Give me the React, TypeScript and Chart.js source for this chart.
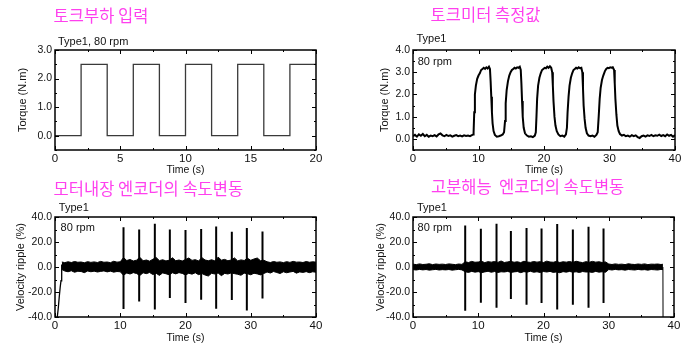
import React, { useEffect, useRef } from "react";
import { Chart, registerables } from "chart.js";

Chart.register(...registerables);

// ---------------- DATA ----------------
// Chart 1: torque load input (step)
const loadTime = [0, 2, 4, 6, 8, 10, 12, 14, 16, 18, 20];
const loadTorque = [0, 2.5, 0, 2.5, 0, 2.5, 0, 2.5, 0, 2.5, 2.5];

// Chart 2: torque meter measurement
const meterTime = [
  0, 0.3, 0.6, 0.9, 1.2, 1.5, 1.8, 2.1, 2.4, 2.7, 3.0, 3.3, 3.6, 3.9, 4.2, 4.5, 4.8, 5.1, 5.4, 5.7, 6.0, 6.3, 6.6, 6.9, 7.2, 7.5, 7.8, 8.1, 8.4, 8.7, 9.0, 9.2,
  9.25, 9.35, 9.45, 9.6, 9.8, 10.0, 10.2, 10.4, 10.6, 10.8, 11.0, 11.2, 11.4, 11.6, 11.75, 11.85, 11.95, 12.05, 12.15, 12.3, 12.5, 12.8, 13.1, 13.4, 13.7, 13.9,
  14.05, 14.15, 14.3, 14.5, 14.7, 14.9, 15.1, 15.3, 15.5, 15.7, 15.9, 16.1, 16.3, 16.45, 16.55, 16.65, 16.75, 16.9, 17.1, 17.4, 17.7, 18.0, 18.3, 18.6, 18.75,
  18.85, 18.95, 19.1, 19.3, 19.5, 19.7, 19.9, 20.1, 20.3, 20.5, 20.7, 20.9, 21.1, 21.25, 21.35, 21.45, 21.6, 21.75, 21.95, 22.2, 22.5, 22.8, 23.1, 23.35,
  23.5, 23.6, 23.75, 23.9, 24.1, 24.3, 24.5, 24.7, 24.9, 25.1, 25.3, 25.5, 25.7, 25.85, 25.95, 26.05, 26.2, 26.35, 26.55, 26.8, 27.1, 27.4, 27.7, 28.0, 28.2,
  28.35, 28.5, 28.65, 28.85, 29.05, 29.3, 29.5, 29.7, 29.9, 30.1, 30.3, 30.5, 30.7, 30.8, 30.9, 31.05, 31.2, 31.4, 31.6, 31.9,
  32.2, 32.5, 32.8, 33.1, 33.4, 33.7, 34.0, 34.3, 34.6, 34.9, 35.2, 35.5, 35.8, 36.1, 36.4, 36.7, 37.0, 37.3, 37.6, 37.9, 38.2, 38.5, 38.8, 39.1, 39.4, 39.7, 40,
];
const meterTorque = [
  0.12, 0.18, 0.1, 0.2, 0.14, 0.22, 0.12, 0.18, 0.1, 0.15, 0.12, 0.17, 0.11, 0.2, 0.24, 0.16, 0.12, 0.18, 0.13, 0.16, 0.1, 0.14, 0.17, 0.12, 0.15, 0.11, 0.16, 0.13, 0.15, 0.12, 0.17, 0.2,
  0.3, 1.2, 2.0, 2.4, 2.7, 2.85, 2.95, 3.1, 3.15, 3.2, 3.15, 3.22, 3.17, 3.25, 3.15, 2.6, 1.9, 1.2, 0.7, 0.35, 0.18, 0.1, 0.12, 0.15, 0.2, 0.3,
  0.8, 1.6, 2.2, 2.6, 2.85, 3.0, 3.1, 3.15, 3.2, 3.17, 3.22, 3.2, 3.25, 3.1, 2.5, 1.7, 1.0, 0.5, 0.25, 0.15, 0.1, 0.12, 0.08, 0.15, 0.3,
  1.0, 1.8, 2.4, 2.75, 2.95, 3.1, 3.15, 3.2, 3.18, 3.25, 3.2, 3.27, 3.2, 3.0, 2.4, 1.7, 1.0, 0.6, 0.35, 0.2, 0.12, 0.15, 0.1, 0.2,
  0.5, 1.2, 1.9, 2.4, 2.75, 2.95, 3.1, 3.15, 3.2, 3.17, 3.22, 3.18, 3.2, 3.0, 2.3, 1.5, 0.9, 0.5, 0.25, 0.15, 0.12, 0.15, 0.1, 0.18, 0.3,
  1.0, 1.8, 2.3, 2.65, 2.85, 3.05, 3.15, 3.2, 3.18, 3.22, 3.2, 3.22, 3.1, 2.5, 1.8, 1.1, 0.6, 0.35, 0.22, 0.15,
  0.18, 0.12, 0.15, 0.1, 0.17, 0.12, 0.16, 0.08, 0.04, 0.12, 0.15, 0.1, 0.16, 0.13, 0.18, 0.12, 0.16, 0.14, 0.19, 0.13, 0.17, 0.12, 0.2, 0.14, 0.18, 0.1, 0.17,
];

// Chart 3: built-in motor encoder velocity ripple
const motorStartTime = [0.35, 0.5, 0.65, 0.8, 0.92, 1.0, 1.05];
const motorStartValue = [-40, -33, -24, -16, -11, -4, 2];
const motorBandTime = [
  1.05, 1.5, 2, 2.5, 3, 3.5, 4, 4.5, 5, 5.5, 6, 6.5, 7, 7.5, 8, 8.5, 9, 9.5, 10,
  10.5, 11, 11.5, 12, 12.5, 13, 13.5, 14, 14.5, 15, 15.5, 16, 16.5, 17, 17.5, 18, 18.5, 19, 19.5, 20,
  20.5, 21, 21.5, 22, 22.5, 23, 23.5, 24, 24.5, 25, 25.5, 26, 26.5, 27, 27.5, 28, 28.5, 29, 29.5, 30,
  30.5, 31, 31.5, 32,
  32.5, 33, 33.5, 34, 34.5, 35, 35.5, 36, 36.5, 37, 37.5, 38, 38.5, 39, 39.5, 40,
];
const motorBandUpper = [
  4.0, 3.5, 4.2, 3.6, 4.4, 3.8, 4.0, 3.4, 4.3, 3.7, 4.1, 3.6, 4.5, 3.8, 4.0, 3.5, 4.6, 3.9, 4.2,
  7.5, 5.2, 6.0, 4.8, 5.5, 7.8, 5.0, 5.6, 4.7, 6.2, 7.6, 5.1, 5.8, 4.9, 5.4, 7.4, 5.0, 5.6, 4.8, 6.0,
  7.2, 5.3, 5.9, 4.8, 7.5, 5.6, 5.0, 5.8, 4.9, 7.9, 5.5, 6.1, 5.0, 5.6, 7.3, 4.9, 5.7, 5.2, 7.0, 5.4,
  6.4, 7.2, 5.0, 5.4,
  4.2, 3.6, 4.4, 3.8, 4.1, 3.5, 4.3, 3.7, 4.5, 3.9, 4.0, 3.6, 4.4, 3.8, 4.2, 3.9,
];
const motorBandLower = [
  -2.0, -3.2, -3.8, -3.0, -4.2, -3.4, -3.6, -4.5, -3.2, -3.8, -3.3, -4.0, -3.5, -3.1, -3.9, -3.3, -4.1, -3.6, -3.8,
  -6.5, -4.8, -5.6, -4.5, -5.2, -6.8, -4.6, -5.3, -4.4, -6.0, -5.0, -6.7, -4.7, -5.4, -6.2, -4.6, -5.5, -4.5, -5.1, -6.4,
  -5.0, -5.7, -4.6, -6.1, -5.2, -6.4, -7.2, -5.0, -5.6, -4.8, -6.9, -5.1, -5.6, -4.7, -5.3, -5.8, -6.6, -4.9, -5.4, -6.2,
  -5.0, -5.5, -6.3, -5.2,
  -4.0, -4.8, -3.6, -4.4, -5.2, -3.8, -4.6, -4.0, -3.5, -4.9, -3.9, -4.3, -3.7, -4.5, -3.8, -4.2,
];
const motorSpikeTime = [10.5, 12.9, 15.3, 17.6, 20.0, 22.4, 24.7, 27.1, 29.4, 31.8];
const motorSpikeTop = [31.8, 30.0, 34.7, 30.0, 29.6, 30.4, 32.5, 28.3, 31.2, 28.5];
const motorSpikeBottom = [-33.6, -27.5, -33.9, -24.8, -28.8, -26.1, -33.3, -26.4, -34.7, -25.1];

// Chart 4: high resolution encoder velocity ripple
const hiresBandTime = [
  0, 0.5, 1, 1.5, 2, 2.5, 3, 3.5, 4, 4.5, 5, 5.5, 6, 6.5, 7, 7.5,
  8, 8.5, 9, 9.5, 10, 10.5, 11, 11.5, 12, 12.5, 13, 13.5, 14, 14.5, 15, 15.5, 16, 16.5, 17, 17.5, 18, 18.5, 19, 19.5,
  20, 20.5, 21, 21.5, 22, 22.5, 23, 23.5, 24, 24.5, 25, 25.5, 26, 26.5, 27, 27.5, 28, 28.5, 29, 29.5,
  30, 30.5, 31, 31.5, 32, 32.5, 33, 33.5, 34, 34.5, 35, 35.5, 36, 36.5, 37, 37.5, 38, 38.3,
];
const hiresBandUpper = [
  2.3, 1.9, 2.5, 2.0, 2.2, 2.6, 1.9, 2.4, 2.1, 2.3, 2.0, 2.5, 2.2, 1.9, 2.4, 2.1,
  4.2, 3.6, 4.5, 3.8, 4.0, 4.6, 3.5, 4.3, 3.9, 4.4, 3.7, 4.8, 3.6, 4.1, 4.5, 3.8, 4.2, 3.5, 4.6, 4.0, 3.7, 4.4, 3.9, 4.3,
  3.6, 4.7, 4.0, 3.8, 4.5, 3.6, 4.2, 3.9, 4.4, 3.7, 4.6, 4.0, 3.5, 4.3, 3.8, 4.5, 3.9, 4.2, 3.6, 4.1,
  2.4, 2.0, 2.5, 2.1, 2.3, 1.9, 2.6, 2.2, 2.0, 2.4, 2.1, 2.5, 1.9, 2.3, 2.2, 2.4, 2.0, 2.2,
];
const hiresBandLower = [
  -2.1, -2.4, -1.9, -2.3, -2.0, -2.5, -2.2, -1.9, -2.4, -2.1, -2.3, -2.0, -2.5, -2.2, -1.9, -2.3,
  -3.8, -4.3, -3.5, -4.1, -3.7, -4.5, -3.9, -3.4, -4.2, -3.6, -4.4, -3.8, -4.0, -3.5, -4.3, -3.9, -3.6, -4.5, -3.7, -4.1,
  -3.4, -4.2, -3.8, -4.4, -3.6, -4.0, -3.5, -4.3, -3.9, -4.6, -3.7, -4.1, -3.5, -4.2, -3.8, -4.4, -3.6, -4.0, -3.9, -4.3,
  -3.5, -4.1, -3.8, -4.2,
  -2.0, -2.4, -1.9, -2.3, -2.1, -2.5, -2.0, -2.2, -2.4, -1.9, -2.3, -2.1, -2.5, -2.0, -2.2, -2.4, -1.9, -2.1,
];
const hiresStopTime = [38.3, 38.32];
const hiresStopValue = [0, -40];
const hiresSpikeTime = [8.0, 10.4, 12.8, 15.0, 17.4, 19.7, 22.1, 24.5, 26.9, 29.2];
const hiresSpikeTop = [33.3, 30.7, 34.7, 28.8, 31.2, 30.9, 34.4, 30.1, 32.3, 30.9];
const hiresSpikeBottom = [-34.9, -28.5, -32.5, -25.6, -30.1, -28.8, -33.9, -30.1, -32.5, -28.8];

// tick values
const loadXMajor = [0, 5, 10, 15, 20];
const loadXMinor = [2.5, 7.5, 12.5, 17.5];
const loadYMajor = [0, 1, 2, 3];
const loadYMinor = [-0.5, 0.5, 1.5, 2.5];
const meterXMajor = [0, 10, 20, 30, 40];
const meterXMinor = [5, 15, 25, 35];
const meterYMajor = [0, 1, 2, 3, 4];
const meterYMinor = [-0.5, 0.5, 1.5, 2.5, 3.5];
const rippleXMajor = [0, 10, 20, 30, 40];
const rippleXMinor = [5, 15, 25, 35];
const rippleYMajor = [-40, -20, 0, 20, 40];
const rippleYMinor = [-30, -10, 10, 30];

// ---------------- HELPERS ----------------
const FONT = "'Liberation Sans', Arial, Helvetica, sans-serif";
const KFONT = "'Noto Sans CJK KR', 'Noto Sans CJK SC', sans-serif";

const pts = (xs: number[], ys: number[]) => xs.map((x, i) => ({ x, y: ys[i] }));
function spikePts(t: number[], top: number[], bottom: number[]) {
  const out: any[] = [];
  t.forEach((tt, i) => {
    out.push({ x: tt, y: top[i] }, { x: tt, y: bottom[i] }, { x: tt, y: null });
  });
  return out;
}

const framePlugin = {
  id: "frame",
  afterDatasetsDraw(chart: any, _args: any, opts: any) {
    const { ctx, chartArea } = chart;
    const { left, right, top, bottom } = chartArea;
    const xs = chart.scales.x;
    const ys = chart.scales.y;
    ctx.save();
    ctx.strokeStyle = "#000";
    ctx.lineWidth = 1;
    const tick = (vals: number[], len: number, horiz: boolean) => {
      vals.forEach((v) => {
        if (horiz) {
          const p = Math.round(xs.getPixelForValue(v)) + 0.5;
          ctx.beginPath();
          ctx.moveTo(p, bottom);
          ctx.lineTo(p, bottom - len);
          ctx.moveTo(p, top);
          ctx.lineTo(p, top + len);
          ctx.stroke();
        } else {
          const p = Math.round(ys.getPixelForValue(v)) + 0.5;
          ctx.beginPath();
          ctx.moveTo(left, p);
          ctx.lineTo(left + len, p);
          ctx.moveTo(right, p);
          ctx.lineTo(right - len, p);
          ctx.stroke();
        }
      });
    };
    tick(opts.xMajor, 4, true);
    tick(opts.xMinor, 2, true);
    tick(opts.yMajor, 4, false);
    tick(opts.yMinor, 2, false);
    ctx.lineWidth = 1.5;
    ctx.strokeRect(left, top, right - left, bottom - top);
    ctx.restore();
  },
};

type Spec = {
  datasets: any[];
  xMin: number; xMax: number; yMin: number; yMax: number;
  xMajor: number[]; xMinor: number[]; yMajor: number[]; yMinor: number[];
  yTitle: string; yW: number; xH: number;
  pad: { left: number; top: number; right: number; bottom: number };
  yTitlePad: number; xTitlePad: number;
};

function buildConfig(s: Spec): any {
  return {
    type: "line",
    data: { datasets: s.datasets },
    plugins: [framePlugin],
    options: {
      responsive: false,
      animation: false,
      devicePixelRatio: 1,
      parsing: true,
      layout: { padding: s.pad },
      elements: { point: { radius: 0 }, line: { tension: 0 } },
      plugins: {
        legend: { display: false },
        title: { display: false },
        tooltip: { enabled: false },
        frame: { xMajor: s.xMajor, xMinor: s.xMinor, yMajor: s.yMajor, yMinor: s.yMinor },
      },
      scales: {
        x: {
          type: "linear",
          min: s.xMin,
          max: s.xMax,
          grid: { display: false, drawTicks: false },
          border: { display: false },
          ticks: {
            font: { family: FONT, size: 11.5 },
            color: "#111",
            padding: 2,
            maxRotation: 0,
            autoSkip: false,
            callback: (v: any) => String(v),
          },
          afterBuildTicks: (sc: any) => {
            sc.ticks = s.xMajor.map((v) => ({ value: v }));
          },
          afterFit: (sc: any) => {
            sc.height = s.xH;
          },
          title: {
            display: true,
            text: "Time (s)",
            font: { family: FONT, size: 10.5 },
            color: "#111",
            padding: { top: 0, bottom: s.xTitlePad },
          },
        },
        y: {
          type: "linear",
          min: s.yMin,
          max: s.yMax,
          grid: { display: false, drawTicks: false },
          border: { display: false },
          ticks: {
            font: { family: FONT, size: 10.5 },
            color: "#111",
            padding: 3,
            autoSkip: false,
            callback: (v: any) => Number(v).toFixed(1),
          },
          afterBuildTicks: (sc: any) => {
            sc.ticks = s.yMajor.map((v) => ({ value: v }));
          },
          afterFit: (sc: any) => {
            sc.width = s.yW;
          },
          title: {
            display: true,
            text: s.yTitle,
            font: { family: FONT, size: 11 },
            color: "#111",
            padding: { top: s.yTitlePad, bottom: 0 },
          },
        },
      },
    },
  };
}

function ChartCanvas(props: { spec: Spec; left: number; top: number; width: number; height: number }) {
  const ref = useRef<HTMLCanvasElement>(null);
  useEffect(() => {
    const chart = new Chart(ref.current as HTMLCanvasElement, buildConfig(props.spec));
    return () => chart.destroy();
  }, []);
  return (
    <canvas
      ref={ref}
      width={props.width}
      height={props.height}
      style={{ position: "absolute", left: props.left, top: props.top, width: props.width, height: props.height }}
    />
  );
}

const lineDs = (data: any[], color: string, width: number, extra: any = {}) => ({
  data,
  borderColor: color,
  backgroundColor: color,
  borderWidth: width,
  pointRadius: 0,
  fill: false,
  ...extra,
});

const spec1: Spec = {
  datasets: [lineDs(pts(loadTime, loadTorque), "#3a3a3a", 1.3, { stepped: true })],
  xMin: 0, xMax: 20, yMin: -0.5, yMax: 3,
  xMajor: loadXMajor, xMinor: loadXMinor, yMajor: loadYMajor, yMinor: loadYMinor,
  yTitle: "Torque (N.m)", yW: 55, xH: 26,
  pad: { left: 0, top: 50, right: 28, bottom: 0 },
  yTitlePad: 16, xTitlePad: 0,
};

const spec2: Spec = {
  datasets: [lineDs(pts(meterTime, meterTorque), "#000", 2)],
  xMin: 0, xMax: 40, yMin: -0.5, yMax: 4,
  xMajor: meterXMajor, xMinor: meterXMinor, yMajor: meterYMajor, yMinor: meterYMinor,
  yTitle: "Torque (N.m)", yW: 69, xH: 26,
  pad: { left: 0, top: 50, right: 13, bottom: 0 },
  yTitlePad: 34, xTitlePad: 0,
};

const spec3: Spec = {
  datasets: [
    lineDs(pts(motorBandTime, motorBandUpper), "#000", 1, { fill: "+1" }),
    lineDs(pts(motorBandTime, motorBandLower), "#000", 1),
    lineDs(pts(motorStartTime, motorStartValue), "#000", 1.3),
    lineDs(spikePts(motorSpikeTime, motorSpikeTop, motorSpikeBottom), "#000", 2, { spanGaps: false }),
  ],
  xMin: 0, xMax: 40, yMin: -40, yMax: 40,
  xMajor: rippleXMajor, xMinor: rippleXMinor, yMajor: rippleYMajor, yMinor: rippleYMinor,
  yTitle: "Velocity ripple (%)", yW: 55, xH: 27,
  pad: { left: 0, top: 45, right: 28, bottom: 0 },
  yTitlePad: 14.5, xTitlePad: 0,
};

const spec4: Spec = {
  datasets: [
    lineDs(pts(hiresBandTime, hiresBandUpper), "#000", 1, { fill: "+1" }),
    lineDs(pts(hiresBandTime, hiresBandLower), "#000", 1),
    lineDs(pts(hiresStopTime, hiresStopValue), "#000", 1),
    lineDs(spikePts(hiresSpikeTime, hiresSpikeTop, hiresSpikeBottom), "#000", 2, { spanGaps: false }),
  ],
  xMin: 0, xMax: 40, yMin: -40, yMax: 40,
  xMajor: rippleXMajor, xMinor: rippleXMinor, yMajor: rippleYMajor, yMinor: rippleYMinor,
  yTitle: "Velocity ripple (%)", yW: 69, xH: 27,
  pad: { left: 0, top: 45, right: 14, bottom: 0 },
  yTitlePad: 30, xTitlePad: 0,
};

const titleStyle = (left: number, top: number): React.CSSProperties => ({
  position: "absolute",
  left,
  top,
  fontFamily: KFONT,
  fontSize: 16.5,
  lineHeight: "16.5px",
  color: "#ff40ee",
  whiteSpace: "pre",
});
const labelStyle = (left: number, top: number): React.CSSProperties => ({
  position: "absolute",
  left,
  top,
  fontFamily: FONT,
  fontSize: 11,
  lineHeight: "11px",
  color: "#111",
  whiteSpace: "pre",
});

export default function App() {
  return (
    <div style={{ position: "fixed", left: 0, top: 0, width: 688, height: 344, background: "#fff", overflow: "hidden" }}>
      <ChartCanvas spec={spec1} left={0} top={0} width={344} height={176} />
      <ChartCanvas spec={spec2} left={344} top={0} width={344} height={176} />
      <ChartCanvas spec={spec3} left={0} top={172} width={344} height={172} />
      <ChartCanvas spec={spec4} left={344} top={172} width={344} height={172} />

      <div style={titleStyle(53.6, 7)}>토크부하 입력</div>
      <div style={titleStyle(430.6, 6.4)}>토크미터 측정값</div>
      <div style={titleStyle(53.6, 180)}>모터내장 엔코더의 속도변동</div>
      <div style={titleStyle(431, 178.4)}>고분해능  엔코더의 속도변동</div>

      <div style={labelStyle(58, 35.6)}>Type1, 80 rpm</div>
      <div style={labelStyle(416.5, 33.3)}>Type1</div>
      <div style={labelStyle(417.7, 55.6)}>80 rpm</div>
      <div style={labelStyle(58.8, 201.6)}>Type1</div>
      <div style={labelStyle(60.6, 222.3)}>80 rpm</div>
      <div style={labelStyle(417, 201.6)}>Type1</div>
      <div style={labelStyle(417.6, 222.3)}>80 rpm</div>
    </div>
  );
}
